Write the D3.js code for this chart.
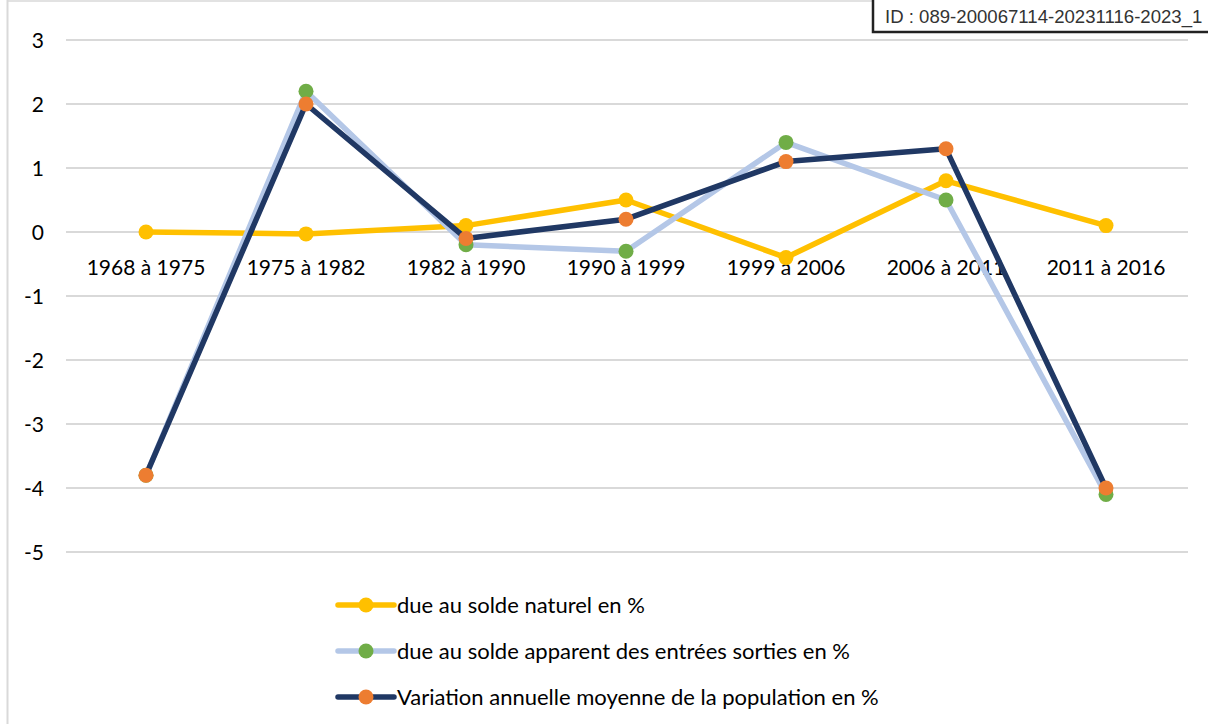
<!DOCTYPE html>
<html><head><meta charset="utf-8">
<script src="https://cdn.jsdelivr.net/npm/d3@7"></script>
<style>body{margin:0;background:#fff}svg{display:block}</style>
</head><body>
<svg id="c" width="1208" height="724"></svg>
<script>
const categories = ["1968 à 1975","1975 à 1982","1982 à 1990","1990 à 1999","1999 à 2006","2006 à 2011","2011 à 2016"];
const soldeNaturel = [0, -0.03, 0.1, 0.5, -0.4, 0.8, 0.1];
const soldeApparent = [-3.8, 2.2, -0.2, -0.3, 1.4, 0.5, -4.1];
const variationAnnuelle = [-3.8, 2.0, -0.1, 0.2, 1.1, 1.3, -4.0];
const yTicks = [3, 2, 1, 0, -1, -2, -3, -4, -5];
const seriesNames = ["due au solde naturel en %","due au solde apparent des entrées sorties en %","Variation annuelle moyenne de la population en %"];
const lineColors = ["#FFC000", "#B4C7E7", "#203864"];
const markerColors = ["#FFC000", "#70AD47", "#ED7D31"];
const idText = "ID : 089-200067114-20231116-2023_1";

const svg = d3.select("#c");
const font = "Lato, 'Noto Sans', sans-serif";

// frame
svg.append("line").attr("x1",7.5).attr("x2",7.5).attr("y1",0).attr("y2",724).attr("stroke","#D9D9D9").attr("stroke-width",2);
svg.append("line").attr("x1",7).attr("x2",1208).attr("y1",1).attr("y2",1).attr("stroke","#D9D9D9").attr("stroke-width",1.5);

const x = d3.scaleBand().domain(categories).range([66, 1186]);
const y = d3.scaleLinear().domain([-5, 3]).range([552, 40]);

// gridlines
svg.append("g").selectAll("line").data(yTicks).join("line")
  .attr("x1",66).attr("x2",1188)
  .attr("y1",d=>y(d)).attr("y2",d=>y(d))
  .attr("stroke","#D9D9D9").attr("stroke-width",2);

// y axis labels
const yAxis = d3.axisLeft(y).tickValues(yTicks).tickSize(0).tickPadding(0).tickFormat(d => String(d));
const gy = svg.append("g").attr("transform","translate(44,0)").call(yAxis);
gy.select(".domain").remove();
gy.selectAll("text").attr("font-family",font).attr("font-size",21).attr("fill","#000").attr("dy","0.35em");

// category labels at y=0 line
const xAxis = d3.axisBottom(x).tickSize(0).tickPadding(0);
const gx = svg.append("g").attr("transform",`translate(0,${y(0)+43})`).call(xAxis);
gx.select(".domain").remove();
gx.selectAll("text").attr("font-family",font).attr("font-size",21).attr("fill","#000").attr("dy","0em");

const allSeries = [soldeNaturel, soldeApparent, variationAnnuelle];
const line = d3.line().x((d,i)=>x(categories[i])+x.bandwidth()/2).y(d=>y(d));
allSeries.forEach((s, k) => {
  const g = svg.append("g");
  g.append("path").attr("d", line(s)).attr("fill","none").attr("stroke",lineColors[k]).attr("stroke-width",5.5).attr("stroke-linejoin","round");
  g.selectAll("circle").data(s).join("circle")
    .attr("cx",(d,i)=>x(categories[i])+x.bandwidth()/2).attr("cy",d=>y(d)).attr("r",7.5)
    .attr("fill",markerColors[k]);
});

// legend
const leg = svg.append("g");
seriesNames.forEach((n,k) => {
  const yy = 605 + k*46;
  leg.append("line").attr("x1",338).attr("x2",394).attr("y1",yy).attr("y2",yy).attr("stroke",lineColors[k]).attr("stroke-width",5.5).attr("stroke-linecap","round");
  leg.append("circle").attr("cx",366).attr("cy",yy).attr("r",7.5).attr("fill",markerColors[k]);
  leg.append("text").attr("x",397).attr("y",yy).attr("dy","0.35em").attr("font-family",font).attr("font-size",22).attr("fill","#000").text(n);
});

// ID box
svg.append("rect").attr("x",873).attr("y",-5).attr("width",345).attr("height",37).attr("fill","#fff").attr("stroke","#222").attr("stroke-width",2.5);
svg.append("text").attr("x",885).attr("y",23).attr("font-family","'Liberation Sans', Arial, sans-serif").attr("font-size",18.6).attr("fill","#333").text(idText);
</script>
</body></html>
